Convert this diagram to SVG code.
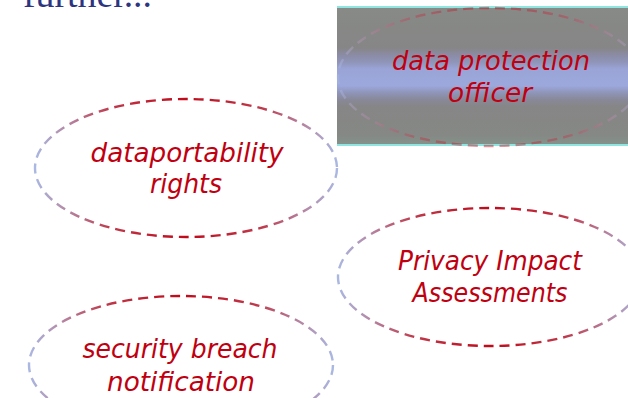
<svg xmlns="http://www.w3.org/2000/svg" width="628" height="398" viewBox="0 0 628 398">
<style>
.lbl{font-family:"DejaVu Sans","Liberation Sans",sans-serif;font-style:italic;font-size:26px;fill:#c00010;text-anchor:middle}
.ell{fill:none;stroke:url(#eg);stroke-width:2.4;stroke-dasharray:10 6}
.title{font-family:"Liberation Serif",serif;font-size:38px;fill:#2e3580}
</style>
<defs>
<linearGradient id="eg" x1="0" y1="0" x2="1" y2="0">
<stop offset="0" stop-color="#aab8e2"/>
<stop offset="0.1" stop-color="#b48aa8"/>
<stop offset="0.25" stop-color="#bf3a4c"/>
<stop offset="0.5" stop-color="#c00a1a"/>
<stop offset="0.75" stop-color="#bf3a4c"/>
<stop offset="0.9" stop-color="#b48aa8"/>
<stop offset="1" stop-color="#aab8e2"/>
</linearGradient>
<linearGradient id="bg" x1="0" y1="0" x2="0" y2="1">
<stop offset="0" stop-color="#878a86"/>
<stop offset="0.3" stop-color="#868686"/>
<stop offset="0.34" stop-color="#8a8aa0"/>
<stop offset="0.4" stop-color="#8f95b8"/>
<stop offset="0.45" stop-color="#9aa4d6"/>
<stop offset="0.57" stop-color="#9ca8dc"/>
<stop offset="0.62" stop-color="#8f95b8"/>
<stop offset="0.67" stop-color="#888898"/>
<stop offset="0.72" stop-color="#868686"/>
<stop offset="0.92" stop-color="#858884"/>
<stop offset="1" stop-color="#84948c"/>
</linearGradient>
</defs>
<text class="title" x="23" y="7" textLength="129" lengthAdjust="spacingAndGlyphs">further...</text>
<g id="n1">
<rect x="337" y="6" width="291" height="140" fill="url(#bg)"/>
<rect x="337" y="6" width="291" height="2" fill="#8fe6e0"/>
<rect x="337" y="144" width="291" height="2" fill="#8fe6e0"/>
<ellipse class="ell" cx="490" cy="77" rx="152" ry="69" opacity="0.45"/>
<text class="lbl" x="491" y="70" textLength="198" lengthAdjust="spacingAndGlyphs">data protection</text>
<text class="lbl" x="490" y="102" textLength="84" lengthAdjust="spacingAndGlyphs">officer</text>
</g>
<g id="n2">
<ellipse class="ell" cx="186" cy="168" rx="151" ry="69"/>
<text class="lbl" x="187" y="162" textLength="193" lengthAdjust="spacingAndGlyphs">dataportability</text>
<text class="lbl" x="186" y="193" textLength="72" lengthAdjust="spacingAndGlyphs">rights</text>
</g>
<g id="n3">
<ellipse class="ell" cx="490" cy="277" rx="152" ry="69"/>
<text class="lbl" x="490" y="270" textLength="184" lengthAdjust="spacingAndGlyphs">Privacy Impact</text>
<text class="lbl" x="490" y="302" textLength="155" lengthAdjust="spacingAndGlyphs">Assessments</text>
</g>
<g id="n4">
<ellipse class="ell" cx="181" cy="365" rx="152" ry="69"/>
<text class="lbl" x="180" y="358" textLength="195" lengthAdjust="spacingAndGlyphs">security breach</text>
<text class="lbl" x="181" y="391" textLength="148" lengthAdjust="spacingAndGlyphs">notification</text>
</g>
<g id="connectors"/>
</svg>
